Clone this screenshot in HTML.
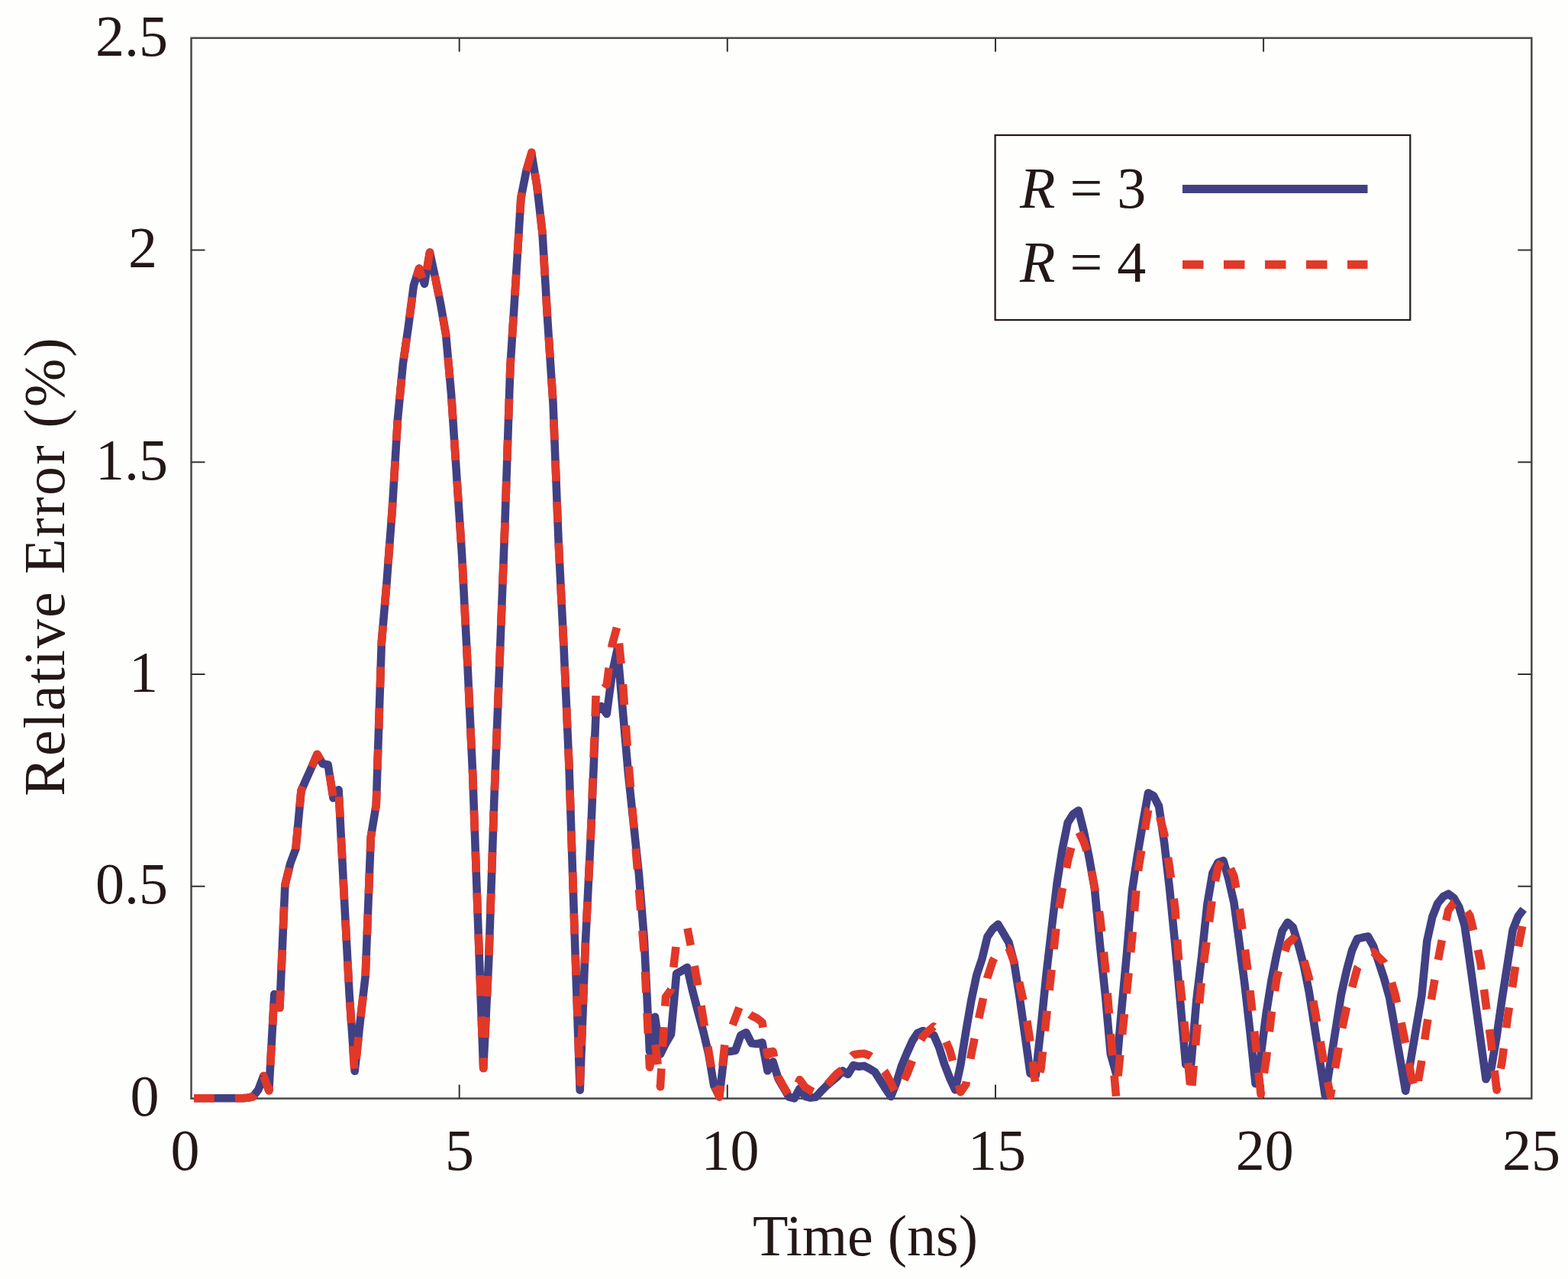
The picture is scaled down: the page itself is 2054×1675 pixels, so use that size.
<!DOCTYPE html>
<html lang="en">
<head>
<meta charset="utf-8">
<title>Relative Error vs Time</title>
<style>
html,body{margin:0;padding:0;background:#fefefc;}
body{width:2054px;height:1675px;overflow:hidden;}
svg{display:block;}
text{font-family:"Liberation Serif","Times New Roman",serif;font-size:76px;fill:#231815;}
</style>
</head>
<body>
<svg xmlns="http://www.w3.org/2000/svg" width="2054" height="1675" viewBox="0 0 2054 1675">
<rect width="2054" height="1675" fill="#fefefc"/>
<rect x="250.5" y="49.8" width="1755.8" height="1388.8" fill="none" stroke="#484848" stroke-width="2.5"/>
<path d="M601.7,1438.6 v-18 M601.7,49.8 v18 M952.8,1438.6 v-18 M952.8,49.8 v18 M1304.0,1438.6 v-18 M1304.0,49.8 v18 M1655.1,1438.6 v-18 M1655.1,49.8 v18 M250.5,1160.8 h18 M2006.3,1160.8 h-18 M250.5,883.1 h18 M2006.3,883.1 h-18 M250.5,605.3 h18 M2006.3,605.3 h-18 M250.5,327.6 h18 M2006.3,327.6 h-18" fill="none" stroke="#333" stroke-width="2"/>
<path d="M254.0,1438.2 L261.0,1438.2 L268.0,1438.2 L275.1,1438.2 L282.1,1438.2 L289.1,1438.2 L296.1,1438.2 L303.2,1438.2 L310.2,1438.2 L317.2,1438.2 L324.2,1437.8 L331.3,1436.3 L338.3,1427.3 L345.3,1409.0 L352.3,1428.2 L359.3,1302.0 L366.4,1319.8 L373.4,1159.0 L380.4,1130.5 L387.4,1111.9 L394.5,1035.5 L401.5,1019.6 L408.5,1004.1 L415.5,987.8 L422.6,1000.2 L429.6,1001.4 L436.6,1045.1 L443.6,1034.4 L450.6,1170.5 L457.7,1303.0 L464.7,1402.8 L471.7,1338.4 L478.7,1278.0 L485.8,1096.2 L492.8,1053.8 L499.8,841.9 L506.8,760.0 L513.9,665.6 L520.9,549.7 L527.9,476.2 L534.9,428.1 L541.9,373.8 L549.0,351.6 L556.0,371.8 L563.0,330.6 L570.0,362.9 L577.1,398.0 L584.1,438.1 L591.1,516.2 L598.1,621.6 L605.1,726.9 L612.2,865.5 L619.2,1013.8 L626.2,1210.0 L633.2,1399.0 L640.3,1256.0 L647.3,1048.9 L654.3,871.0 L661.3,689.7 L668.4,480.6 L675.4,372.0 L682.4,259.2 L689.4,223.9 L696.4,201.5 L703.5,244.4 L710.5,305.1 L717.5,422.5 L724.5,527.9 L731.6,708.3 L738.6,848.7 L745.6,1006.6 L752.6,1220.2 L759.7,1427.7 L766.7,1239.4 L773.7,1098.3 L780.7,932.0 L787.7,924.9 L794.8,934.9 L801.8,882.2 L808.8,850.0 L815.8,930.5 L822.9,1012.2 L829.9,1078.4 L836.9,1144.7 L843.9,1230.8 L851.0,1377.0 L858.0,1331.8 L865.0,1380.6 L872.0,1366.5 L879.0,1354.6 L886.1,1275.2 L893.1,1271.3 L900.1,1267.0 L907.1,1297.2 L914.2,1324.6 L921.2,1350.6 L928.2,1379.9 L935.2,1421.6 L942.3,1436.0 L949.3,1376.3 L956.3,1377.0 L963.3,1375.7 L970.3,1355.9 L977.4,1352.2 L984.4,1366.2 L991.4,1367.1 L998.4,1365.3 L1005.5,1402.3 L1012.5,1390.3 L1019.5,1412.6 L1026.5,1424.7 L1033.6,1436.7 L1040.6,1438.4 L1047.6,1425.5 L1054.6,1435.8 L1061.6,1437.6 L1068.7,1436.7 L1075.7,1429.0 L1082.7,1422.1 L1089.7,1416.1 L1096.8,1410.2 L1103.8,1402.5 L1110.8,1406.9 L1117.8,1395.2 L1124.9,1396.7 L1131.9,1395.9 L1138.9,1399.5 L1145.9,1403.7 L1152.9,1414.5 L1160.0,1425.7 L1167.0,1436.0 L1174.0,1418.5 L1181.0,1396.0 L1188.1,1379.0 L1195.1,1363.3 L1202.1,1352.8 L1209.1,1350.0 L1216.2,1352.9 L1223.2,1355.7 L1230.2,1371.6 L1237.2,1393.8 L1244.2,1411.9 L1251.3,1427.2 L1258.3,1394.6 L1265.3,1350.8 L1272.3,1310.2 L1279.4,1276.6 L1286.4,1255.8 L1293.4,1226.9 L1300.4,1216.6 L1307.5,1210.6 L1314.5,1222.4 L1321.5,1234.3 L1328.5,1260.9 L1335.5,1305.0 L1342.6,1355.4 L1349.6,1405.8 L1356.6,1408.7 L1363.6,1344.8 L1370.7,1275.1 L1377.7,1215.0 L1384.7,1156.1 L1391.7,1111.7 L1398.7,1077.3 L1405.8,1066.1 L1412.8,1061.5 L1419.8,1089.0 L1426.8,1123.6 L1433.9,1163.8 L1440.9,1237.6 L1447.9,1303.0 L1454.9,1380.4 L1462.0,1405.8 L1469.0,1324.5 L1476.0,1249.2 L1483.0,1166.5 L1490.0,1120.0 L1497.1,1078.0 L1504.1,1038.5 L1511.1,1042.2 L1518.1,1056.0 L1525.2,1104.0 L1532.2,1165.0 L1539.2,1235.2 L1546.2,1312.7 L1553.3,1394.2 L1560.3,1393.0 L1567.3,1310.0 L1574.3,1251.6 L1581.3,1185.2 L1588.4,1143.5 L1595.4,1129.8 L1602.4,1127.1 L1609.4,1151.1 L1616.5,1182.2 L1623.5,1234.9 L1630.5,1289.2 L1637.5,1351.5 L1644.6,1419.1 L1651.6,1381.8 L1658.6,1327.4 L1665.6,1283.7 L1672.6,1248.5 L1679.7,1219.0 L1686.7,1208.1 L1693.7,1214.2 L1700.7,1237.0 L1707.8,1264.0 L1714.8,1299.0 L1721.8,1343.6 L1728.8,1388.5 L1735.9,1434.9 L1742.9,1390.7 L1749.9,1346.5 L1756.9,1302.5 L1763.9,1271.4 L1771.0,1244.8 L1778.0,1229.4 L1785.0,1227.8 L1792.0,1226.4 L1799.1,1239.1 L1806.1,1260.1 L1813.1,1281.5 L1820.1,1306.4 L1827.2,1347.2 L1834.2,1387.7 L1841.2,1428.7 L1848.2,1387.2 L1855.2,1345.5 L1862.3,1304.2 L1869.3,1232.3 L1876.3,1200.8 L1883.3,1183.0 L1890.4,1174.3 L1897.4,1170.7 L1904.4,1175.9 L1911.4,1188.2 L1918.5,1211.6 L1925.5,1260.6 L1932.5,1311.4 L1939.5,1362.3 L1946.5,1413.3 L1953.6,1398.4 L1960.6,1357.0 L1967.6,1308.3 L1974.6,1263.5 L1981.7,1217.6 L1988.7,1200.0 L1995.7,1190.7" fill="none" stroke="#414084" stroke-width="10.6" stroke-linejoin="round" stroke-linecap="butt"/>
<path d="M254.0,1438.2 261.0,1438.2 268.0,1438.2 275.1,1438.2 280.8,1438.2 M307.9,1438.2 310.2,1438.2 317.2,1438.2 324.2,1437.8 331.3,1436.3 333.4,1433.5 M345.2,1409.4 345.3,1409.0 352.3,1428.2 352.7,1422.0 M354.2,1395.0 355.6,1368.8 M357.1,1342.0 358.7,1314.3 M364.7,1315.7 366.4,1319.8 367.4,1297.2 M368.5,1270.8 369.7,1243.9 M370.9,1216.4 372.1,1187.5 M373.3,1162.0 373.4,1159.0 379.0,1136.4 M387.4,1112.1 387.4,1111.9 390.0,1083.5 M392.5,1056.7 394.5,1035.5 396.8,1030.1 M408.3,1004.5 408.5,1004.1 415.5,987.8 420.0,995.6 M431.8,1015.0 436.2,1042.5 M444.1,1043.3 445.5,1070.1 M446.8,1096.9 448.3,1124.5 M449.7,1151.3 450.6,1170.5 451.0,1178.1 M452.5,1205.0 453.9,1231.8 M455.3,1258.7 456.8,1286.2 M458.3,1312.4 460.1,1339.9 M462.1,1369.8 464.1,1399.7 M466.8,1386.5 469.6,1358.2 M472.4,1331.5 475.6,1304.7 M478.7,1278.0 479.8,1251.1 M480.8,1224.2 481.9,1197.3 M482.9,1170.4 483.9,1143.5 M485.0,1115.3 485.8,1096.2 487.0,1088.5 M491.5,1061.3 492.8,1053.8 493.4,1035.5 M494.3,1008.0 495.2,981.2 M496.1,954.2 497.0,927.2 M497.9,900.2 498.8,873.2 M499.7,846.2 499.8,841.9 501.7,819.3 M504.0,792.4 506.4,765.5 M508.4,738.6 510.4,711.6 M512.4,684.7 513.9,665.6 514.3,657.8 M516.0,630.8 517.6,603.9 M519.2,576.9 520.9,550.0 M523.4,523.1 526.0,496.2 M528.9,469.4 532.8,442.7 M536.5,415.9 540.0,389.1 M545.3,363.1 549.0,351.6 553.4,364.4 M559.1,353.4 563.0,330.6 563.8,334.1 M569.6,360.7 570.0,362.9 575.1,388.0 M580.0,414.8 584.1,438.1 584.4,441.4 M586.8,468.3 589.2,495.2 M591.5,522.1 593.3,549.1 M595.1,576.0 596.9,602.9 M598.7,629.9 600.5,656.8 M602.3,683.8 604.1,710.7 M605.7,737.7 607.1,764.6 M608.4,791.6 609.8,818.6 M611.2,845.6 612.2,865.5 612.5,872.5 M613.8,899.5 615.1,926.5 M616.3,953.4 617.6,980.4 M618.9,1007.4 619.2,1013.8 619.9,1034.4 M620.9,1061.4 621.9,1088.4 M622.8,1115.3 623.8,1142.3 M624.8,1169.3 625.7,1196.3 M626.7,1223.3 627.7,1250.3 M628.7,1277.3 629.7,1304.2 M630.7,1331.2 631.7,1358.2 M632.7,1385.2 633.2,1399.0 633.9,1385.8 M635.2,1358.9 636.5,1331.9 M637.9,1304.9 639.2,1277.9 M640.4,1251.0 641.4,1224.0 M642.3,1197.0 643.2,1170.0 M644.1,1143.0 645.0,1116.0 M645.9,1089.0 646.8,1062.0 M647.8,1035.1 648.9,1008.1 M650.0,981.1 651.0,954.1 M652.1,927.1 653.2,900.1 M654.2,873.2 654.3,871.0 655.3,846.2 M656.3,819.2 657.4,792.2 M658.4,765.2 659.5,738.2 M660.5,711.3 661.3,689.7 661.5,684.3 M662.4,657.3 663.3,630.3 M664.2,603.3 665.1,576.3 M666.0,549.3 667.0,522.3 M667.9,495.3 668.4,480.6 669.1,468.4 M670.9,441.4 672.6,414.5 M674.4,386.9 675.4,372.0 676.2,359.4 M677.8,332.6 679.5,305.8 M681.2,278.9 682.4,259.2 683.8,252.2 M689.4,223.8 696.4,199.5 697.0,203.1 M700.7,226.7 703.5,244.4 704.5,253.6 M707.6,280.3 710.5,305.1 710.6,307.2 M712.2,334.0 713.8,360.9 M715.4,387.7 717.0,414.5 M718.8,441.5 720.6,468.4 M722.4,495.3 724.2,522.2 M725.4,549.2 726.4,576.2 M727.5,603.1 728.5,630.1 M729.6,657.1 730.6,684.0 M731.7,711.0 733.0,737.9 M734.4,764.9 735.7,791.8 M737.1,818.8 738.4,845.7 M739.7,872.7 740.9,899.7 M742.1,926.6 743.3,953.6 M744.5,980.5 745.6,1006.6 745.6,1007.5 M746.5,1034.5 747.4,1061.4 M748.3,1088.4 749.2,1115.4 M750.1,1142.3 751.0,1169.3 M751.8,1196.3 752.6,1220.2 752.7,1223.3 M753.7,1250.2 754.7,1277.2 M755.6,1304.2 756.6,1331.1 M757.5,1358.1 758.5,1385.1 M759.5,1412.0 759.7,1417.7 760.5,1396.4 M761.6,1369.4 762.6,1342.5 M763.7,1315.5 764.7,1288.5 M765.8,1261.6 766.7,1239.4 766.9,1234.6 M768.3,1207.7 769.6,1180.7 M770.9,1153.8 772.3,1126.8 M773.6,1099.9 773.7,1098.3 774.6,1072.9 M775.6,1045.9 776.6,1019.0 M777.6,992.0 778.6,965.0 M779.6,938.1 780.6,911.1 M791.3,893.5 794.8,896.7 797.7,874.7 M801.3,847.9 801.8,844.4 808.0,821.8 M811.0,842.4 813.6,869.2 M816.0,896.1 817.9,923.0 M819.8,950.0 821.7,976.9 M823.7,1003.8 826.0,1030.7 M828.3,1057.6 829.9,1076.6 830.5,1084.5 M832.7,1111.4 834.9,1138.3 M837.0,1165.1 839.2,1192.0 M841.4,1218.9 843.6,1245.8 M845.0,1272.8 846.3,1299.7 M847.6,1326.8 848.8,1353.4 M850.2,1380.9 851.0,1397.6 853.0,1387.5 M858.5,1368.1 861.6,1394.0 M864.6,1420.2 865.0,1423.3 866.4,1399.4 M868.1,1370.9 869.7,1345.2 M871.3,1317.6 872.0,1305.8 879.0,1296.0 879.2,1294.5 M882.3,1266.9 885.4,1240.0 M900.5,1215.7 904.8,1237.9 M909.7,1265.0 914.1,1290.3 M918.5,1317.1 921.2,1334.0 922.8,1343.9 M927.3,1370.7 928.2,1376.1 931.7,1397.6 M936.8,1423.2 942.3,1436.5 943.8,1421.6 M946.4,1396.0 949.3,1368.4 M959.7,1342.3 963.3,1332.8 968.3,1319.5 M982.3,1328.5 984.4,1330.1 991.4,1333.4 998.4,1338.9 999.5,1345.6 M1004.0,1372.8 1005.5,1381.7 1012.5,1376.9 1014.0,1384.1 M1019.1,1408.7 1019.5,1410.7 1026.5,1423.1 1032.2,1432.8 M1045.5,1418.5 1047.6,1414.0 1054.6,1423.8 1061.6,1428.1 1065.0,1429.7 M1083.7,1420.1 1089.7,1413.4 1096.8,1405.7 1102.8,1401.3 M1116.0,1383.3 1117.8,1381.5 1124.9,1380.3 1131.9,1379.7 1138.9,1382.3 1141.0,1383.7 M1158.4,1402.9 1160.0,1404.9 1167.0,1418.1 1171.7,1428.3 M1184.5,1414.3 1188.1,1406.7 1195.0,1389.1 M1206.3,1361.9 1209.1,1357.2 1216.2,1350.2 1223.2,1344.2 1223.3,1344.3 M1239.4,1364.3 1244.2,1375.5 1248.0,1389.1 M1256.0,1420.9 1258.3,1430.2 1265.3,1420.0 1265.9,1416.5 M1271.3,1386.7 1272.3,1380.9 1276.6,1360.0 M1282.2,1333.5 1286.4,1314.9 1287.9,1307.2 M1293.2,1281.3 1293.4,1280.3 1300.4,1258.7 1302.5,1255.0 M1319.7,1241.2 1321.5,1241.4 1328.5,1260.0 1329.2,1262.6 M1335.1,1286.2 1335.5,1288.1 1340.4,1310.0 M1345.3,1336.9 1349.5,1363.9 M1352.7,1390.5 1355.9,1416.6 M1362.1,1404.3 1363.6,1399.1 1365.9,1377.2 M1368.8,1350.3 1370.7,1332.3 1371.6,1323.7 M1374.6,1296.8 1377.6,1269.9 M1380.5,1243.0 1383.4,1216.2 M1387.3,1189.4 1391.7,1164.2 1392.0,1162.8 M1397.0,1136.7 1398.7,1127.7 1403.3,1110.1 M1413.5,1090.0 1419.8,1102.9 1423.5,1114.2 M1429.8,1140.4 1433.9,1162.1 1434.8,1166.9 M1439.7,1193.4 1440.9,1199.6 1443.0,1220.1 M1445.8,1246.9 1447.9,1266.7 1448.5,1273.7 M1450.7,1300.6 1452.9,1327.4 M1455.0,1354.3 1457.4,1382.2 M1459.6,1408.3 1462.0,1435.6 M1464.6,1408.9 1467.3,1381.6 M1470.0,1354.9 1472.9,1328.0 M1475.8,1301.1 1476.0,1299.1 1478.5,1274.1 M1481.2,1247.2 1483.0,1228.9 1483.8,1220.2 M1486.0,1193.2 1488.3,1166.2 M1490.9,1140.4 1495.2,1113.8 M1499.8,1086.4 1504.1,1060.7 1505.1,1059.9 M1519.2,1070.2 1525.2,1092.5 1525.8,1096.4 M1530.0,1123.1 1532.2,1137.1 1533.9,1149.8 M1537.6,1177.0 1539.2,1188.6 1540.3,1203.7 M1542.1,1230.5 1544.0,1257.3 M1545.9,1284.1 1546.2,1289.2 1548.5,1310.8 M1551.2,1337.8 1553.3,1357.3 1553.9,1364.7 M1556.4,1392.1 1559.0,1420.3 M1561.4,1421.9 1563.7,1395.5 M1566.1,1368.9 1567.3,1354.8 1568.6,1341.5 M1571.1,1314.1 1573.6,1287.3 M1576.9,1260.6 1580.5,1233.9 M1584.0,1207.2 1587.5,1180.1 M1592.0,1154.0 1595.4,1136.0 1599.5,1128.4 M1611.9,1137.4 1616.5,1147.7 1619.1,1163.0 M1623.8,1190.3 1627.5,1217.0 M1631.1,1243.6 1634.3,1270.3 M1637.5,1296.9 1637.5,1297.4 1640.3,1323.7 M1643.2,1350.6 1644.6,1363.9 1646.0,1378.0 M1648.7,1404.6 1651.6,1433.2 1652.2,1429.5 M1655.9,1405.4 1658.6,1388.0 1659.8,1377.6 M1662.9,1351.1 1665.6,1327.4 1666.1,1324.5 M1670.0,1297.7 1672.6,1280.0 1675.1,1271.8 M1683.3,1245.7 1686.7,1235.6 1693.7,1229.3 1698.1,1232.6 M1708.3,1258.1 1714.8,1280.9 1715.4,1284.4 M1720.2,1310.8 1721.8,1319.5 1725.1,1338.2 M1729.6,1364.0 1734.2,1391.3 M1739.2,1416.9 1742.9,1434.9 1744.3,1426.3 M1749.0,1398.9 1749.9,1393.7 1753.7,1371.8 M1758.3,1346.5 1763.9,1319.6 1764.2,1318.7 M1771.2,1292.9 1778.0,1268.0 1779.1,1266.3 M1796.7,1247.3 1799.1,1246.8 1806.1,1253.8 1813.1,1260.5 1813.4,1261.1 M1823.0,1286.7 1827.2,1301.1 1829.9,1313.2 M1835.6,1339.2 1841.0,1365.9 M1845.6,1392.1 1848.2,1407.4 1851.8,1419.2 M1857.8,1415.4 1862.3,1389.6 1862.4,1388.9 M1866.3,1361.6 1869.3,1341.3 1870.4,1334.8 M1874.9,1309.0 1876.3,1300.9 1879.4,1283.0 M1883.9,1257.1 1888.8,1231.3 M1894.3,1205.5 1897.4,1191.9 1904.4,1182.3 1904.8,1182.1 M1921.6,1193.7 1925.5,1199.5 1930.1,1218.3 M1935.9,1244.0 1939.5,1261.1 1940.6,1269.8 M1944.0,1295.9 1946.5,1315.8 1947.4,1322.0 M1951.0,1348.1 1953.6,1367.2 1954.5,1375.6 M1957.6,1402.0 1960.6,1427.4 1961.3,1423.7 M1965.8,1399.5 1967.6,1390.1 1969.8,1373.0 M1973.2,1346.1 1974.6,1334.4 1976.9,1319.5 M1981.1,1292.8 1981.7,1289.2 1985.0,1266.1 M1989.0,1239.4 1994.2,1212.9" fill="none" stroke="#e23828" stroke-width="10.6" stroke-linejoin="round" stroke-linecap="butt"/>
<text x="220" y="73" text-anchor="end">2.5</text>
<text x="206" y="350" text-anchor="end">2</text>
<text x="220" y="628" text-anchor="end">1.5</text>
<text x="207" y="906" text-anchor="end">1</text>
<text x="220" y="1183" text-anchor="end">0.5</text>
<text x="208.4" y="1461" text-anchor="end">0</text>
<text x="242.4" y="1532" text-anchor="middle">0</text>
<text x="602" y="1532" text-anchor="middle">5</text>
<text x="956.5" y="1532" text-anchor="middle">10</text>
<text x="1306" y="1532" text-anchor="middle">15</text>
<text x="1656.7" y="1532" text-anchor="middle">20</text>
<text x="2006" y="1532" text-anchor="middle">25</text>
<text x="1133.5" y="1643.6" text-anchor="middle">Time (ns)</text>
<text transform="translate(84.2,1042.8) rotate(-90)" letter-spacing="2.05">Relative Error (%)</text>
<rect x="1303.6" y="177" width="543.7" height="242" fill="none" stroke="#231815" stroke-width="2.2"/>
<text x="1336" y="272.4"><tspan font-style="italic">R</tspan> = 3</text>
<text x="1336" y="369"><tspan font-style="italic">R</tspan> = 4</text>
<path d="M1549,247.5 H1791.5" stroke="#414084" stroke-width="11" fill="none"/>
<path d="M1549,346.6 H1791.5" stroke="#e23828" stroke-width="11" fill="none" stroke-dasharray="27.5 26.5"/>
</svg>
</body>
</html>
